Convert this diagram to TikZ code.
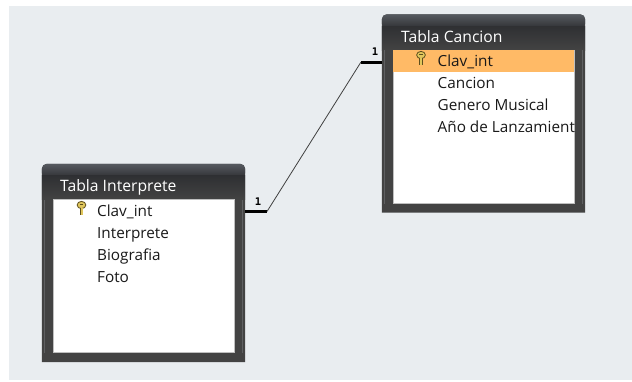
\documentclass[tikz,border=0pt]{standalone}
\usepackage{fontspec}
\setmainfont{Open Sans}
\newfontfamily\relfont{DejaVu Sans Mono}
\usetikzlibrary{positioning}
\definecolor{fondo}{HTML}{E9EDF0}
\definecolor{marco}{HTML}{434343}
\definecolor{franja}{HTML}{5F6062}
\definecolor{cabeza}{HTML}{2F3033}
\definecolor{cabezatop}{HTML}{565A60}
\definecolor{selec}{HTML}{FFBA66}
\definecolor{llave}{HTML}{E0C65C}
\definecolor{llaveborde}{HTML}{5E4F1E}
\tikzset{
	tablebox/.style={minimum width=203pt,minimum height=198pt,inner sep=0pt},
	tablelist/.style={fill=white,draw=black!25,line width=.6pt,minimum width=181pt,minimum height=153pt,inner sep=0pt},
	tablehead/.style={text=white,font=\fontsize{15.7}{17}\selectfont,inner sep=0pt,anchor=west},
	fieldrow/.style={text=black!90,font=\fontsize{15.3}{17}\selectfont,inner sep=0pt,anchor=west,text height=11pt,text depth=4pt},
	relfine/.style={black!75,line width=.8pt},
	relthick/.style={black,line width=3pt},
	rellabel/.style={font=\relfont\bfseries\fontsize{10.5}{10.5}\selectfont,inner sep=0pt},
	keyicon/.pic={
		\draw [fill=llave,draw=llaveborde,line width=.8pt] (0,-3) ellipse (4.4pt and 3.6pt);
		\fill [llaveborde] (-1.8,-3.8) rectangle (1.8,-2.8);
		\draw [llaveborde,line width=3.8pt] (0,.4) -- (0,7.4);
		\draw [llave,line width=2pt] (0,0) -- (0,6.8);
	}
}
\begin{document}
\begin{tikzpicture}[x=1pt,y=-1pt]
	\useasboundingbox (0,0) rectangle (632,381);
	\fill [white] (0,0) rectangle (632,381);
	\fill [fondo] (9,6) rectangle (632,380);

	\node [tablebox] (interprete) at (143.5,263) {};
	\node [tablebox] (cancion) at (483.5,113.5) {};

	% marcos de las dos tablas
	\foreach \tabla in {interprete,cancion} {
		\fill [marco] (\tabla.south west) [rounded corners=5pt] -- (\tabla.north west) -- (\tabla.north east) [sharp corners] -- (\tabla.south east) -- cycle;
		\path [top color=cabezatop,bottom color=cabeza,rounded corners=5pt] (\tabla.north west) rectangle ([yshift=-14pt]\tabla.north east);
		\path [top color=cabeza,bottom color=marco] ([yshift=-12pt]\tabla.north west) rectangle ([yshift=-36pt]\tabla.north east);
		\fill [franja] ([shift={(2pt,-36pt)}]\tabla.north west) rectangle ([shift={(3.5pt,9pt)}]\tabla.south west);
		\fill [franja] ([shift={(-3.5pt,-36pt)}]\tabla.north east) rectangle ([shift={(-2pt,9pt)}]\tabla.south east);
	}

	\node [tablelist,below=35.5pt of interprete.north] (listaint) {};
	\node [tablelist,below=36pt of cancion.north] (listacan) {};
	\fill [selec] (listacan.north west) rectangle ([yshift=-22pt]listacan.north east);

	\node [tablehead] (headint) at (60,187) {Tabla Interprete};
	\node [tablehead] (headcan) at (401,37) {Tabla Cancion};

	% campos
	\node [fieldrow] (clavint) at (97,213) {Clav\_int};
	\node [fieldrow,below=10pt of clavint.west,anchor=west,yshift=-12pt] (interp) {Interprete};
	\node [fieldrow,below=10pt of interp.west,anchor=west,yshift=-12pt] (biografia) {Biografia};
	\node [fieldrow,below=10pt of biografia.west,anchor=west,yshift=-12pt] (foto) {Foto};

	\node [fieldrow] (clavcan) at (437.5,63) {Clav\_int};
	\node [fieldrow,below=10pt of clavcan.west,anchor=west,yshift=-12pt] (cancionf) {Cancion};
	\node [fieldrow,below=10pt of cancionf.west,anchor=west,yshift=-12pt] (genero) {Genero Musical};
	\node [fieldrow,below=10pt of genero.west,anchor=west,yshift=-12pt] (anno) {Año de Lanzamient};

	\pic at (81.5,208) {keyicon};
	\pic at (421,58) {keyicon};

	% relacion 1 a 1
	\coordinate (codoint) at (267,211.5);
	\coordinate (codocan) at (361,62);
	\draw [relthick] (interprete.east |- codoint) -- (codoint);
	\draw [relfine] (codoint) -- (codocan);
	\draw [relthick] (codocan) -- (cancion.west |- codocan);
	\node [rellabel] (unoint) at (258,202) {1};
	\node [rellabel] (unocan) at (375,52) {1};
\end{tikzpicture}
\end{document}
